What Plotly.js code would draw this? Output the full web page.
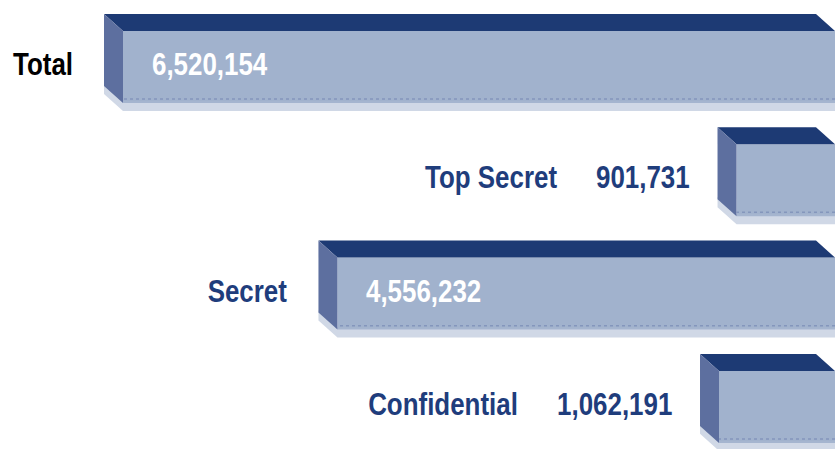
<!DOCTYPE html>
<html>
<head>
<meta charset="utf-8">
<script src="https://cdn.plot.ly/plotly-3.0.1.min.js"></script>
<style>
html,body{margin:0;padding:0;background:#fff;overflow:hidden;}
#chart{width:839px;height:449px;}
</style>
</head>
<body>
<div id="chart"></div>
<script>
// ---- data ----
const categories = ['Total', 'Top Secret', 'Secret', 'Confidential'];
const values = [6520154, 901731, 4556232, 1062191];
const valueLabels = ['6,520,154', '901,731', '4,556,232', '1,062,191'];

// ---- layout geometry (pixels) ----
const W = 839, H = 449;
const plotW = 835;
const frontLeftOfMax = 123;
const rowTop = 67, rowStep = 113.3;
const frontH = 72, depthX = 19, depthY = 17;

const XMAX = Math.max(...values) * plotW / (plotW - frontLeftOfMax);
const unitPerPx = XMAX / plotW;
const yLo = -rowTop / rowStep, yHi = (H - rowTop) / rowStep;
const h = frontH / rowStep, dy = depthY / rowStep, dx = depthX * unitPerPx;

const FONT = '"Liberation Sans", Arial, sans-serif';
const FS = 32;
const SX = 0.81; // horizontal squeeze to mimic a condensed grotesque
const cTop = '#1d3a74', cSide = '#5d6f9f', cFront = '#a1b2cd', cNavy = '#1f3d7c';

const traces = [];
values.forEach((v, i) => {
  const yb = i + h / 2;
  traces.push({
    type: 'scatter', mode: 'lines', line: {width: 0}, fill: 'toself',
    fillcolor: 'rgba(170,184,210,0.55)', hoverinfo: 'skip',
    x: [0, v, v + dx, v + dx, v, 0],
    y: [yb - 0.02, yb - 0.02, yb - dy - 0.02, yb - dy + 0.07, yb + 0.07, yb + 0.07]
  });
});
traces.push({
  type: 'bar', orientation: 'h', x: values, y: categories.map((c, i) => i),
  width: h, marker: {color: cFront, line: {width: 0}}, hoverinfo: 'skip'
});
values.forEach((v, i) => {
  const yt = i - h / 2, yb = i + h / 2;
  traces.push({
    type: 'scatter', mode: 'lines', hoverinfo: 'skip',
    x: [0, v], y: [yb - 0.035, yb - 0.035],
    line: {color: 'rgba(110,128,175,0.55)', width: 1.5, dash: 'dot'}
  });
  traces.push({
    type: 'scatter', mode: 'lines', line: {width: 0}, fill: 'toself',
    fillcolor: cTop, hoverinfo: 'skip',
    x: [0, v, v + dx, dx, 0], y: [yt, yt, yt - dy, yt - dy, yt]
  });
  traces.push({
    type: 'scatter', mode: 'lines', line: {width: 0}, fill: 'toself',
    fillcolor: cSide, hoverinfo: 'skip',
    x: [v, v + dx, v + dx, v, v], y: [yt, yt - dy, yb - dy, yb, yt]
  });
});

const ctx = document.createElement('canvas').getContext('2d');
ctx.font = 'bold ' + FS + 'px ' + FONT;
const tw = s => ctx.measureText(s).width * SX;

const fnt = color => ({family: FONT, size: FS, color: color, weight: 'bold'});
const annotations = [];
values.forEach((v, i) => {
  const frontPx = v / unitPerPx;
  const inside = frontPx > tw(valueLabels[i]) + 80;
  if (inside) {
    annotations.push({
      x: v, y: i, xref: 'x', yref: 'y', xanchor: 'left', yanchor: 'middle',
      xshift: 27, yshift: 3, showarrow: false, text: valueLabels[i], font: fnt('#ffffff')
    });
    annotations.push({
      x: v + dx, y: i, xref: 'x', yref: 'y', xanchor: 'right', yanchor: 'middle',
      xshift: -29, yshift: 3, showarrow: false, text: categories[i],
      font: fnt(i === 0 ? '#000000' : cNavy)
    });
  } else {
    const vShift = -26;
    annotations.push({
      x: v + dx, y: i, xref: 'x', yref: 'y', xanchor: 'right', yanchor: 'middle',
      xshift: vShift, yshift: 3, showarrow: false, text: valueLabels[i], font: fnt(cNavy)
    });
    annotations.push({
      x: v + dx, y: i, xref: 'x', yref: 'y', xanchor: 'right', yanchor: 'middle',
      xshift: vShift - tw(valueLabels[i]) - 39, yshift: 3, showarrow: false,
      text: categories[i], font: fnt(cNavy)
    });
  }
});

const layout = {
  width: W, height: H,
  margin: {l: 0, r: W - plotW, t: 0, b: 0, pad: 0},
  paper_bgcolor: '#ffffff', plot_bgcolor: '#ffffff',
  showlegend: false, hovermode: false,
  xaxis: {range: [XMAX, 0], visible: false, fixedrange: true},
  yaxis: {range: [yHi, yLo], visible: false, fixedrange: true},
  annotations: annotations
};

Plotly.newPlot('chart', traces, layout, {staticPlot: true, displayModeBar: false}).then(gd => {
  gd.querySelectorAll('g.annotation').forEach(g => {
    const idx = +g.getAttribute('data-index');
    const a = annotations[idx];
    const t = g.querySelector('text.annotation-text');
    if (!t) return;
    t.style.transformBox = 'fill-box';
    t.style.transformOrigin = (a.xanchor === 'left' ? 'left' : 'right') + ' center';
    t.style.transform = 'scaleX(' + SX + ')';
  });
});
</script>
</body>
</html>
